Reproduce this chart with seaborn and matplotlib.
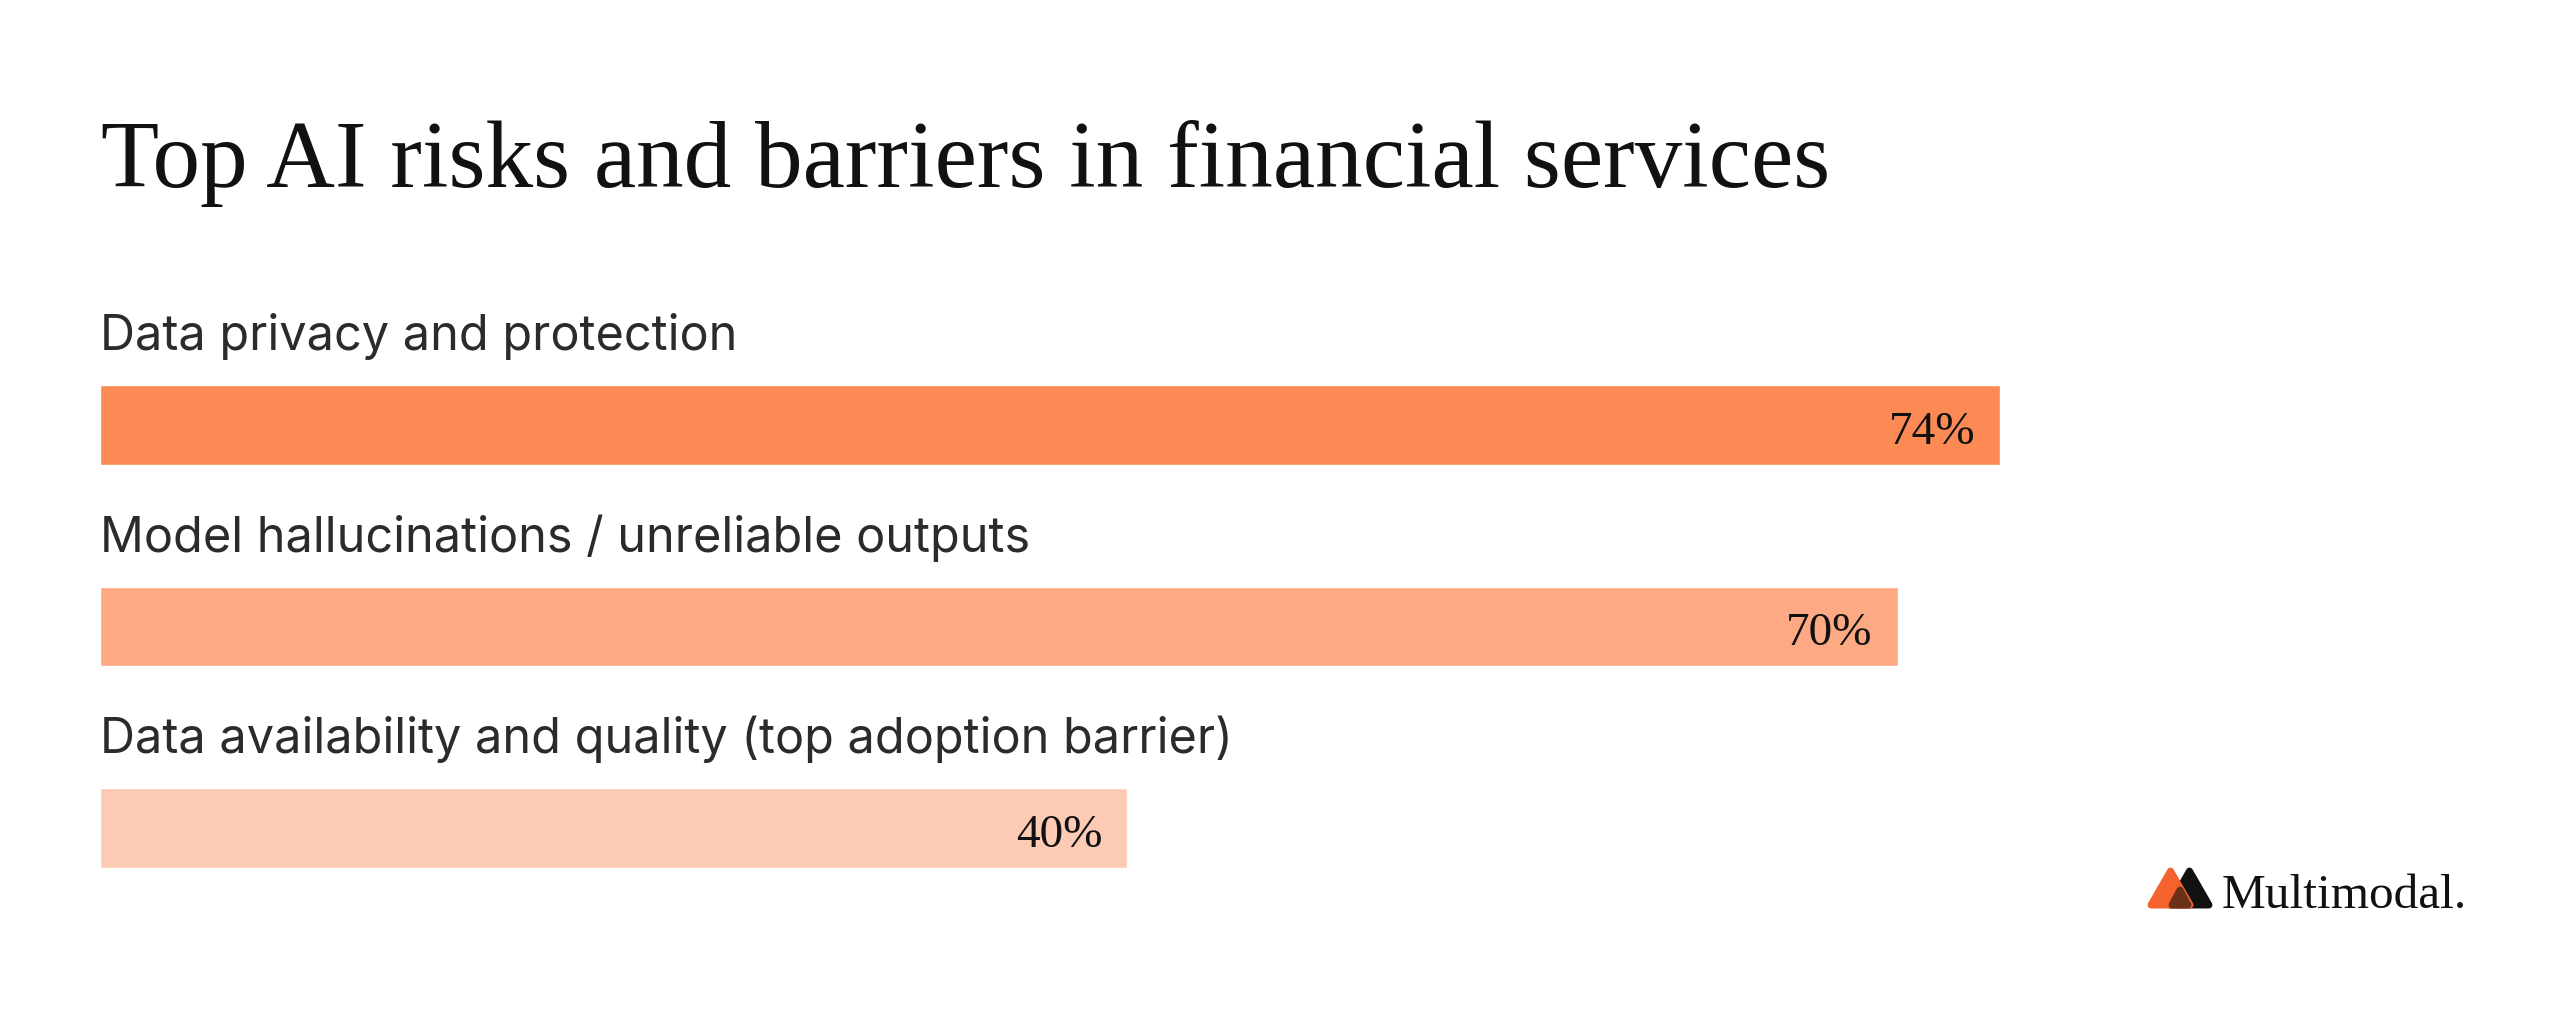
import pandas as pd
import numpy as np
import seaborn as sns
import matplotlib.pyplot as plt
from matplotlib.patches import Polygon

# data
risks = [
    'Data privacy and protection',
    'Model hallucinations / unreliable outputs',
    'Data availability and quality (top adoption barrier)',
]
shares = [74, 70, 40]
bar_colors = ['#FC8A54', '#FDAA84', '#FDCBB4']

df = pd.DataFrame({'risk': risks, 'share': shares})

sns.set_theme(style='white')
plt.rcParams['font.family'] = ['Inter', 'DejaVu Sans']

W, H = 2560, 1020
fig = plt.figure(figsize=(W / 100, H / 100), dpi=100)
fig.patch.set_facecolor('white')

# axes: x from 100px, 25.68 px per percent; one category = 202px
px_per_pct = 25.68
ax_w = 2000
ax = fig.add_axes([100 / W, (H - 930) / H, ax_w / W, 605 / H])
sns.barplot(data=df, x='share', y='risk', hue='risk', palette=bar_colors,
            orient='h', width=80 / 202, saturation=1, legend=False, ax=ax)
ax.set_xlim(0, ax_w / px_per_pct)
ax.set_ylim(2.5, -0.5)
ax.axis('off')

serif = ['Liberation Serif', 'DejaVu Serif']
for i, (name, val) in enumerate(zip(risks, shares)):
    ax.text(0, i - 0.376, name, ha='left', va='baseline',
            fontsize=35, color='#2B2B2B', family=['Inter', 'DejaVu Sans'])
    ax.text(val - 25 / px_per_pct, i + 0.089, f'{val}%', ha='right', va='baseline',
            fontsize=34, color='#111111', family=serif)

fig.text(101 / W, 1 - 187 / H, 'Top AI risks and barriers in financial services',
         ha='left', va='baseline', fontsize=68.5, color='#111111', family=serif)

# logo mark: two rounded triangles
def tri(pts_px, color, z):
    pts = [(x / W, 1 - y / H) for x, y in pts_px]
    p = Polygon(pts, closed=True, transform=fig.transFigure, facecolor=color,
                edgecolor=color, linewidth=5, joinstyle='round', zorder=z)
    fig.add_artist(p)

tri([(2170, 906), (2209, 906), (2189.5, 872)], '#111111', 3)
tri([(2151, 906), (2190, 906), (2170.5, 872)], '#F4622E', 4)
tri([(2172, 906), (2188, 906), (2180, 891)], '#6B3018', 5)
fig.text(2222 / W, 1 - 908 / H, 'Multimodal.', ha='left', va='baseline',
         fontsize=35.5, color='#111111', family=serif)

fig.savefig('out.png', dpi=100, facecolor='white')
